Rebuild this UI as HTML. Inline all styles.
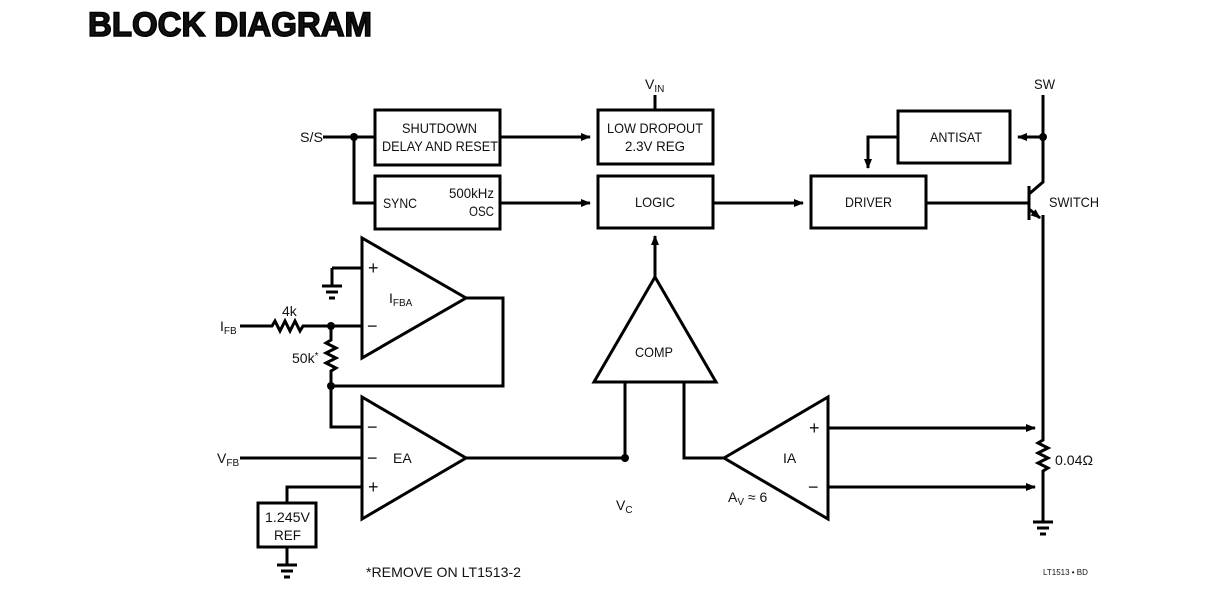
<!DOCTYPE html>
<html><head><style>
html,body{margin:0;padding:0;background:#fff;}
svg{display:block;font-family:"Liberation Sans",sans-serif;}
text{font-size:14px;fill:#111;}
</style></head><body>
<svg width="1225" height="606" viewBox="0 0 1225 606" xmlns="http://www.w3.org/2000/svg">
<defs><marker id="a" markerWidth="10" markerHeight="8" refX="9" refY="4" orient="auto" markerUnits="userSpaceOnUse"><path d="M0,0 L10,4 L0,8 z" fill="#000"/></marker></defs>
<text x="88" y="36" style="font-size:34px;font-weight:bold" stroke="#000" stroke-width="1.5" textLength="284" lengthAdjust="spacingAndGlyphs">BLOCK DIAGRAM</text>
<g fill="none" stroke="#000" stroke-width="3">
<rect x="375" y="110" width="125" height="55"/>
<rect x="375" y="176" width="125" height="53"/>
<rect x="598" y="110" width="115" height="54"/>
<rect x="598" y="176" width="115" height="52"/>
<rect x="811" y="176" width="115" height="52"/>
<rect x="898" y="111" width="112" height="52"/>
<rect x="258" y="503" width="58" height="44"/>
<path d="M323,137H375M354,137V203H375"/>
<path d="M500,137H590" marker-end="url(#a)"/>
<path d="M500,203H590" marker-end="url(#a)"/>
<path d="M713,203H803" marker-end="url(#a)"/>
<path d="M655,95V110"/>
<path d="M655,277V236" marker-end="url(#a)"/>
<path d="M655,277L716,382H594Z"/>
<path d="M625,382V458M684,382V458H724"/>
<path d="M724,458L828,397V519Z"/>
<path d="M828,428H1035" marker-end="url(#a)"/>
<path d="M828,487H1035" marker-end="url(#a)"/>
<path d="M362,397V519L466,458Z"/>
<path d="M466,458H625"/>
<path d="M362,238V358L466,298Z"/>
<path d="M466,298H503V386H331"/>
<path d="M332,268H362M332,268V285"/>
<path d="M322,286H342M326,292H338M329,298H335"/>
<path d="M240,326H272l3,-5l5,10l5,-10l5,10l5,-10l5,10l3,-5H362"/>
<path d="M331,326V340l-5,3l10,5l-10,5l10,5l-10,5l10,5l-5,3V427H362"/>
<path d="M240,458H362M287,503V487H362M287,547V565"/>
<path d="M277,565H297M281,571H293M284,577H290"/>
<path d="M1043,95V182L1029,194M1029,186V220"/>
<path d="M926,203H1029"/>
<path d="M1043,137H1018" marker-end="url(#a)"/>
<path d="M898,137H868V168" marker-end="url(#a)"/>
<path d="M1029,209L1040,218" marker-end="url(#a)"/>
<path d="M1043,215V440l-5,3l10,5l-10,5l10,5l-10,5l10,5l-5,3V522"/>
<path d="M1033,522H1053M1037,528H1049M1040,534H1046"/>
</g>
<g fill="#000"><circle cx="354" cy="137" r="4"/><circle cx="331" cy="326" r="4"/><circle cx="331" cy="386" r="4"/><circle cx="625" cy="458" r="4"/><circle cx="1043" cy="137" r="4"/></g>
<text x="300" y="142" textLength="23" lengthAdjust="spacingAndGlyphs">S/S</text>
<text x="402" y="133" textLength="75" lengthAdjust="spacingAndGlyphs">SHUTDOWN</text>
<text x="382" y="151" textLength="116" lengthAdjust="spacingAndGlyphs">DELAY AND RESET</text>
<text x="383" y="208" textLength="34" lengthAdjust="spacingAndGlyphs">SYNC</text>
<text x="449" y="198" textLength="45" lengthAdjust="spacingAndGlyphs">500kHz</text>
<text x="469" y="216" textLength="25" lengthAdjust="spacingAndGlyphs">OSC</text>
<text x="607" y="133" textLength="96" lengthAdjust="spacingAndGlyphs">LOW DROPOUT</text>
<text x="625" y="151" textLength="60" lengthAdjust="spacingAndGlyphs">2.3V REG</text>
<text x="635" y="207" textLength="40" lengthAdjust="spacingAndGlyphs">LOGIC</text>
<text x="845" y="207" textLength="47" lengthAdjust="spacingAndGlyphs">DRIVER</text>
<text x="930" y="142" textLength="52" lengthAdjust="spacingAndGlyphs">ANTISAT</text>
<text x="645" y="89">V<tspan font-size="10" dy="3">IN</tspan></text>
<text x="1034" y="89" textLength="21" lengthAdjust="spacingAndGlyphs">SW</text>
<text x="1049" y="207" textLength="50" lengthAdjust="spacingAndGlyphs">SWITCH</text>
<text x="635" y="357" textLength="38" lengthAdjust="spacingAndGlyphs">COMP</text>
<text x="783" y="463">IA</text>
<text x="393" y="463">EA</text>
<text x="389" y="303">I<tspan font-size="10" dy="3">FBA</tspan></text>
<text x="368" y="274" style="font-size:18px">+</text>
<text x="367" y="332" style="font-size:18px">−</text>
<text x="367" y="433" style="font-size:18px">−</text>
<text x="367" y="464" style="font-size:18px">−</text>
<text x="368" y="493" style="font-size:18px">+</text>
<text x="809" y="434" style="font-size:18px">+</text>
<text x="808" y="493" style="font-size:18px">−</text>
<text x="282" y="316">4k</text>
<text x="292" y="363">50k<tspan font-size="10" dy="-4">*</tspan></text>
<text x="220" y="331">I<tspan font-size="10" dy="3">FB</tspan></text>
<text x="217" y="463">V<tspan font-size="10" dy="3">FB</tspan></text>
<text x="265" y="522" textLength="45" lengthAdjust="spacingAndGlyphs">1.245V</text>
<text x="274" y="540" textLength="27" lengthAdjust="spacingAndGlyphs">REF</text>
<text x="616" y="510">V<tspan font-size="10" dy="3">C</tspan></text>
<text x="728" y="502">A<tspan font-size="10" dy="3">V</tspan><tspan dy="-3"> ≈ 6</tspan></text>
<text x="1055" y="465" textLength="38" lengthAdjust="spacingAndGlyphs">0.04Ω</text>
<text x="366" y="577" textLength="155" lengthAdjust="spacingAndGlyphs">*REMOVE ON LT1513-2</text>
<text x="1043" y="575" style="font-size:8px">LT1513 • BD</text>
</svg>
</body></html>
